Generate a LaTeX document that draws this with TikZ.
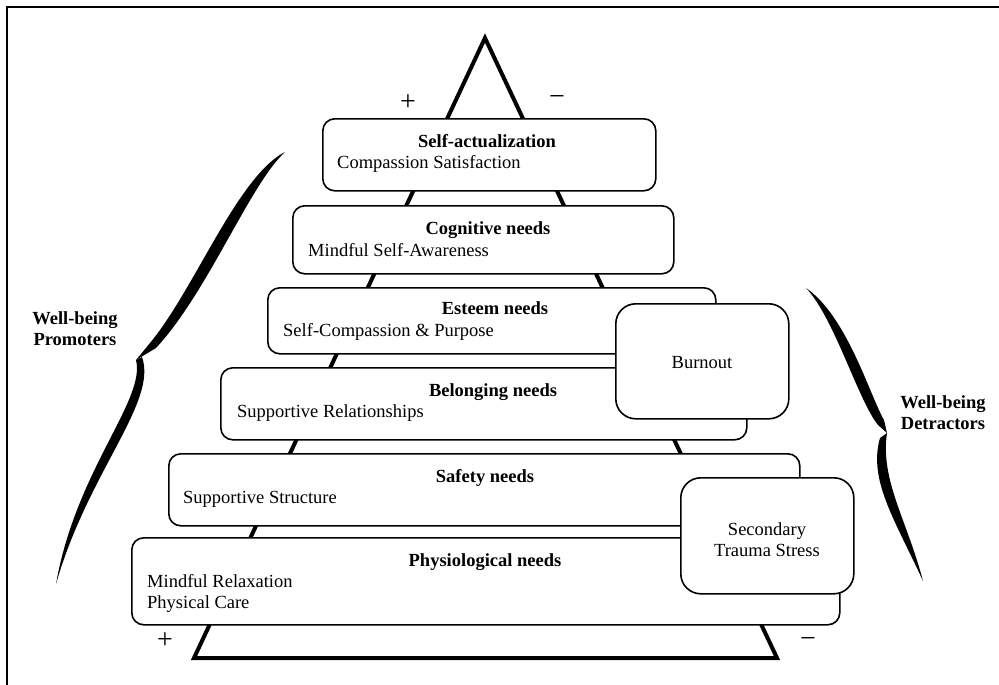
\documentclass[tikz,border=0pt]{standalone}
\usepackage{fontspec}
\setmainfont{Liberation Serif}
\begin{document}
\begin{tikzpicture}[x=1pt,y=-1pt,
  box/.style={draw, line width=1.6pt, rounded corners=12pt, fill=white, inner sep=0pt, anchor=north west},
  sidebox/.style={box, rounded corners=20pt},
  ttl/.style={font=\fontsize{18.5}{21}\selectfont\bfseries, inner sep=0pt, anchor=base},
  sub/.style={font=\fontsize{18.5}{21}\selectfont, inner sep=0pt, anchor=base west},
  side/.style={font=\fontsize{18.5}{21}\selectfont, inner sep=0pt, align=center},
  lbl/.style={font=\fontsize{18.5}{21}\selectfont\bfseries, inner sep=0pt, align=center},
  sign/.style={font=\fontsize{28}{28}\selectfont, inner sep=0pt},
  brace/.style={fill=black}]
\useasboundingbox (0,0) rectangle (999,685);
% frame
\draw[line width=2pt] (7,700) -- (7,7) -- (1010,7);
% pyramid
\draw[line width=4pt, line join=miter] (485,38) -- (194,658) -- (777,658) -- cycle;
% signs
\node[sign] (plusT) at (408,103) {+};
\node[sign] (minusT) at (557,101) {−};
\node[sign] (plusB) at (165,641) {+};
\node[sign] (minusB) at (808,642) {−};
% boxes
\node[box, minimum width=333pt, minimum height=72pt] (b1) at (322,118) {};
\node[box, minimum width=381pt, minimum height=68pt] (b2) at (292,205) {};
\node[box, minimum width=448pt, minimum height=66pt] (b3) at (267,287) {};
\node[box, minimum width=526pt, minimum height=72pt] (b4) at (220,367) {};
\node[box, minimum width=631pt, minimum height=72pt] (b5) at (168,453) {};
\node[box, minimum width=708pt, minimum height=87pt] (b6) at (131,537) {};
\node[sidebox, minimum width=173pt, minimum height=115pt] (bo) at (615,303) {};
\node[sidebox, minimum width=173pt, minimum height=116pt] (sts) at (680,477) {};
% texts
\node[ttl] (t1) at (487,147) {Self-actualization};
\node[sub] (s1) at (337,168) {Compassion Satisfaction};
\node[ttl] (t2) at (488,234) {Cognitive needs};
\node[sub] (s2) at (308,256) {Mindful Self-Awareness};
\node[ttl] (t3) at (495,314) {Esteem needs};
\node[sub] (s3) at (283,336) {Self-Compassion \& Purpose};
\node[ttl] (t4) at (493,396) {Belonging needs};
\node[sub] (s4) at (237,417) {Supportive Relationships};
\node[ttl] (t5) at (485,482) {Safety needs};
\node[sub] (s5) at (183,503) {Supportive Structure};
\node[ttl] (t6) at (485,566) {Physiological needs};
\node[sub] (s6a) at (147,587) {Mindful Relaxation};
\node[sub] (s6b) at (147,608) {Physical Care};
\node[side] (tbo) at (702,363) {Burnout};
\node[side] (tsts) at (767,540) {Secondary\\Trauma Stress};
\node[lbl] (lp) at (75,329) {Well-being\\Promoters};
\node[lbl] (ld) at (943,413) {Well-being\\Detractors};
% left brace
\fill[brace] (283,153) .. controls (236,180) and (194,290) .. (150,343) -- (136,360) -- (156,348)
  .. controls (208,292) and (250,184) .. (285,152) -- cycle;
\fill[brace] (136,360) .. controls (146,400) and (76,470) .. (56,584)
  .. controls (88,472) and (158,402) .. (142,357) -- cycle;
% right brace
\fill[brace] (807,289) .. controls (835,320) and (858,400) .. (878,425) -- (887,433) -- (884,420)
  .. controls (870,396) and (847,316) .. (806,288) -- cycle;
\fill[brace] (887,433) .. controls (880,480) and (907,520) .. (923,581)
  .. controls (895,520) and (868,480) .. (880,438) -- cycle;
\end{tikzpicture}
\end{document}
